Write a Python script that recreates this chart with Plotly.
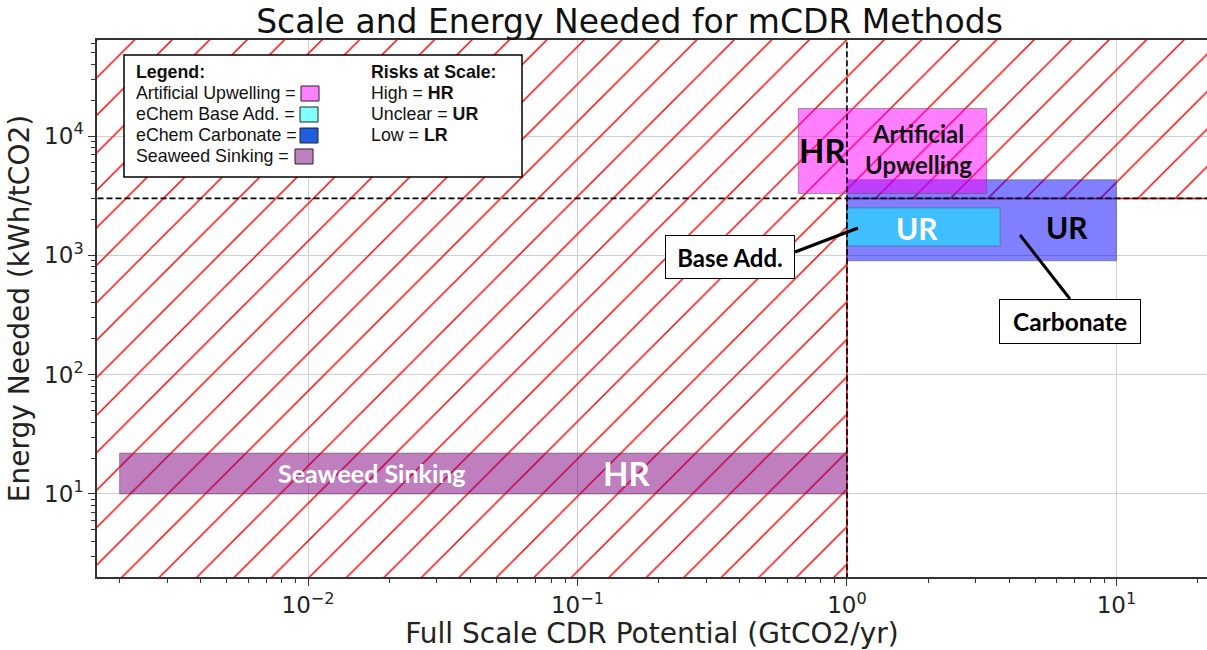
import math
import plotly.graph_objects as go

# ---------------- data ----------------
methods = ["Artificial Upwelling", "eChem Base Add.", "eChem Carbonate", "Seaweed Sinking"]
scale_low = [0.66, 1.0, 1.0, 0.002]        # GtCO2/yr
scale_high = [3.3, 3.7, 10.0, 1.0]
energy_low = [3300, 1200, 900, 10]         # kWh/tCO2
energy_high = [17000, 2500, 4300, 22]
risk_labels = ["HR", "UR", "UR", "HR"]

scale_threshold = 1.0
energy_threshold = 3000

x_tick_vals = [0.01, 0.1, 1, 10]
x_tick_text = ["10<sup>\u22122</sup>", "10<sup>\u22121</sup>", "10<sup>0</sup>", "10<sup>1</sup>"]
y_tick_vals = [10, 100, 1000, 10000]
y_tick_text = ["10<sup>1</sup>", "10<sup>2</sup>", "10<sup>3</sup>", "10<sup>4</sup>"]

x_limits = [10 ** -2.783, 10 ** 1.336]
y_limits = [10 ** 0.304, 10 ** 4.805]

# ---------------- styles ----------------
fill_colors = {
    "Artificial Upwelling": "rgba(255,0,255,0.5)",
    "eChem Base Add.": "rgba(0,255,255,0.5)",
    "eChem Carbonate": "rgba(0,0,255,0.5)",
    "Seaweed Sinking": "rgba(128,0,128,0.5)",
}
legend_swatch = {
    "Artificial Upwelling": "#ff80ff",
    "eChem Base Add.": "#80ffff",
    "eChem Carbonate": "#1f5fdf",
    "Seaweed Sinking": "#bf80bf",
}
draw_order = ["eChem Carbonate", "eChem Base Add.", "Artificial Upwelling", "Seaweed Sinking"]

W, H = 1207, 650
ML, MR, MT, MB = 97, 0, 40, 73
PW, PH = W - ML - MR, H - MT - MB


def px(xp):
    return (xp - ML) / PW


def py(yp):
    return (H - MB - yp) / PH


fig = go.Figure()

# hatched (high-risk) region: left of scale threshold or above energy threshold
xa, xb = x_limits[0] / 10, x_limits[1] * 10
ya, yb = y_limits[0] / 10, y_limits[1] * 10
fig.add_trace(go.Scatter(
    x=[xa, scale_threshold, scale_threshold, xb, xb, xa, xa],
    y=[ya, ya, energy_threshold, energy_threshold, yb, yb, ya],
    mode="lines", line=dict(width=0, color="rgba(0,0,0,0)"),
    fill="toself", fillcolor="rgba(0,0,0,0)",
    fillpattern=dict(shape="/", size=26.5, solidity=0.055, fgcolor="#ff0000",
                     fgopacity=1, bgcolor="rgba(0,0,0,0)"),
    hoverinfo="skip", showlegend=False,
))
# red edge of hatched region
fig.add_trace(go.Scatter(
    x=[scale_threshold, scale_threshold, xb],
    y=[ya, energy_threshold, energy_threshold],
    mode="lines", line=dict(width=1.5, color="#ff0000"),
    hoverinfo="skip", showlegend=False,
))

# method boxes
for m in draw_order:
    i = methods.index(m)
    x0, x1 = scale_low[i], scale_high[i]
    y0, y1 = energy_low[i], energy_high[i]
    fig.add_trace(go.Scatter(
        x=[x0, x1, x1, x0, x0], y=[y0, y0, y1, y1, y0],
        mode="lines", fill="toself", fillcolor=fill_colors[m],
        line=dict(width=1, color="rgba(90,90,90,0.55)"),
        name=m, showlegend=False, hoverinfo="name",
    ))

# threshold dashed lines
fig.add_trace(go.Scatter(
    x=[scale_threshold, scale_threshold], y=[ya, yb], mode="lines",
    line=dict(width=1.6, color="black", dash="6px,3px"),
    hoverinfo="skip", showlegend=False,
))
fig.add_trace(go.Scatter(
    x=[xa, xb], y=[energy_threshold, energy_threshold], mode="lines",
    line=dict(width=1.6, color="black", dash="6px,3px"),
    hoverinfo="skip", showlegend=False,
))

shapes = []
annotations = []


def note(xp, yp, text, font, xanchor="center", **kw):
    d = dict(xref="paper", yref="paper", x=px(xp), y=py(yp), text=text, showarrow=False,
             xanchor=xanchor, yanchor="middle", font=font)
    d.update(kw)
    annotations.append(d)


# legend box
shapes.append(dict(type="rect", xref="paper", yref="paper",
                   x0=px(124), x1=px(522), y0=py(177), y1=py(55),
                   fillcolor="white", line=dict(color="black", width=1.5), layer="above"))
leg_font = dict(family="Liberation Sans, Arial", size=17.8, color="#111")
note(134, 72, "<b>Legend:</b>", leg_font, xanchor="left")
leg_rows = [93, 114, 135, 156]
for m, yy in zip(methods, leg_rows):
    note(134, yy, m + " =", leg_font, xanchor="left")
sw_x = {"Artificial Upwelling": 301, "eChem Base Add.": 300, "eChem Carbonate": 300,
        "Seaweed Sinking": 295}
for m, yy in zip(methods, leg_rows):
    shapes.append(dict(type="rect", xref="paper", yref="paper",
                       x0=px(sw_x[m]), x1=px(sw_x[m] + 18), y0=py(yy + 8), y1=py(yy - 7),
                       fillcolor=legend_swatch[m], line=dict(color="#222", width=1), layer="above"))
risk_lines = ["<b>Risks at Scale:</b>", "High = <b>HR</b>", "Unclear = <b>UR</b>", "Low = <b>LR</b>"]
for t, yy in zip(risk_lines, [72, 93, 114, 135]):
    note(369, yy, t, leg_font, xanchor="left")

# in-chart labels
lab = "Lato, Carlito, sans-serif"
note(822, 150, "<b>" + risk_labels[0] + "</b>", dict(family=lab, size=33, color="black"))
note(918, 149, "<b>Artificial<br>Upwelling</b>", dict(family=lab, size=24, color="#111"))
note(917, 228, "<b>" + risk_labels[1] + "</b>", dict(family=lab, size=30, color="white"))
note(1067, 227, "<b>" + risk_labels[2] + "</b>", dict(family=lab, size=30, color="black"))
note(372, 473, "<b>Seaweed Sinking</b>", dict(family=lab, size=25, color="white"))
note(626, 473, "<b>" + risk_labels[3] + "</b>", dict(family=lab, size=33, color="white"))
note(730, 257, "<b>Base Add.</b>", dict(family=lab, size=24, color="black"),
     bgcolor="white", bordercolor="black", borderwidth=1, borderpad=6, width=116, height=30)
note(1070, 321, "<b>Carbonate</b>", dict(family=lab, size=24.5, color="black"),
     bgcolor="white", bordercolor="black", borderwidth=1, borderpad=6, width=128, height=31)

shapes.append(dict(type="line", xref="paper", yref="paper", x0=px(795), y0=py(252),
                   x1=px(858), y1=py(228), line=dict(color="black", width=3), layer="above"))
shapes.append(dict(type="line", xref="paper", yref="paper", x0=px(1020), y0=py(235),
                   x1=px(1070), y1=py(299), line=dict(color="black", width=3), layer="above"))

axis_font = dict(family="DejaVu Sans", size=28, color="#222")
tick_font = dict(family="DejaVu Sans", size=23, color="#222")

fig.update_layout(
    width=W, height=H,
    margin=dict(l=ML, r=MR, t=MT, b=MB, pad=0, autoexpand=False),
    paper_bgcolor="white", plot_bgcolor="white",
    title=dict(text="Scale and Energy Needed for mCDR Methods", xref="container",
               x=629.5 / W, xanchor="center",
               y=1 - 21 / H, yanchor="middle", automargin=False,
               font=dict(family="DejaVu Sans", size=33, color="#111")),
    shapes=shapes, annotations=annotations,
    showlegend=False,
    xaxis=dict(type="log", range=[math.log10(x_limits[0]), math.log10(x_limits[1])],
               automargin=False,
               tickmode="array", tickvals=x_tick_vals, ticktext=x_tick_text,
               ticks="outside", ticklen=7, tickwidth=1.2, tickcolor="#333",
               minor=dict(ticks="outside", ticklen=4, tickcolor="#333", dtick="D1", showgrid=False),
               showgrid=True, gridcolor="#cfcfcf", gridwidth=1,
               showline=True, linecolor="#333", linewidth=1.5, mirror=True,
               zeroline=False, tickfont=tick_font,
               title=dict(text="Full Scale CDR Potential (GtCO2/yr)", font=axis_font, standoff=4)),
    yaxis=dict(type="log", range=[math.log10(y_limits[0]), math.log10(y_limits[1])],
               automargin=False,
               tickmode="array", tickvals=y_tick_vals, ticktext=y_tick_text,
               ticks="outside", ticklen=7, tickwidth=1.2, tickcolor="#333",
               minor=dict(ticks="outside", ticklen=4, tickcolor="#333", dtick="D1", showgrid=False),
               showgrid=True, gridcolor="#cfcfcf", gridwidth=1,
               showline=True, linecolor="#333", linewidth=1.5, mirror=True,
               zeroline=False, tickfont=tick_font,
               title=dict(text="Energy Needed (kWh/tCO2)", font=axis_font, standoff=6)),
)

fig.write_html("out.html", config={"displayModeBar": False},
               post_script="document.body.style.margin='0px';")
